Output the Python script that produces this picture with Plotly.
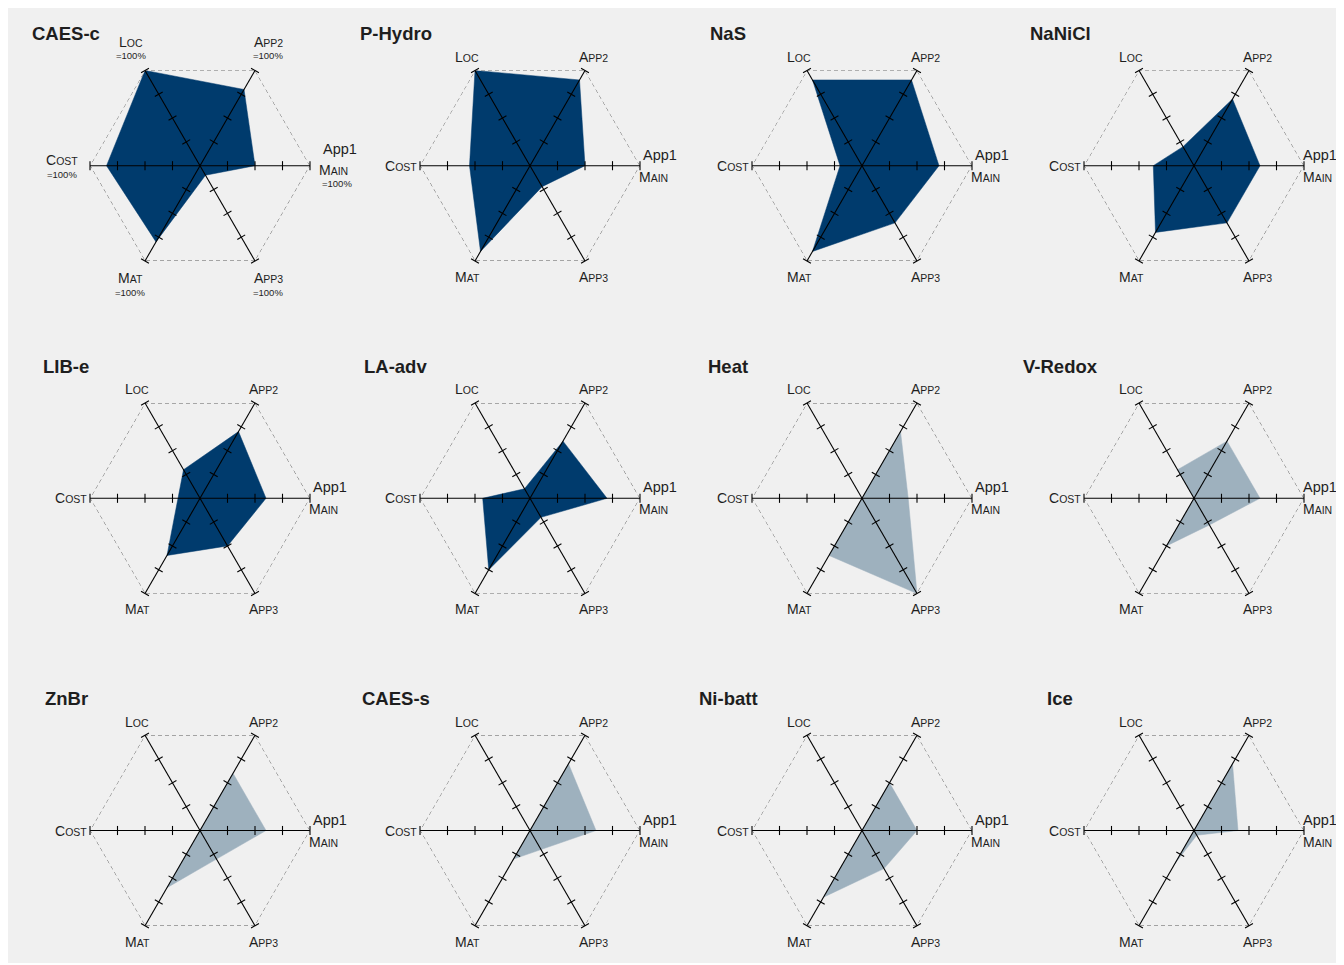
import plotly.graph_objects as go

W, H = 1344, 955
OFF = 8  # page body margin in the browser
VIS_RIGHT = 1336  # right edge of the visible figure area (page px)

# ---------------- data ----------------
TECH = ["CAES-c", "P-Hydro", "NaS", "NaNiCl",
        "LIB-e", "LA-adv", "Heat", "V-Redox",
        "ZnBr", "CAES-s", "Ni-batt", "Ice"]
AXES = ["Main", "App2", "Loc", "Cost", "Mat", "App3"]

MAIN = [0.50, 0.50, 0.70, 0.60, 0.60, 0.70, 0.42, 0.60, 0.60, 0.60, 0.50, 0.40]
APP2 = [0.80, 0.90, 0.90, 0.70, 0.70, 0.60, 0.70, 0.60, 0.60, 0.70, 0.50, 0.70]
LOC = [1.00, 1.00, 0.90, 0.20, 0.30, 0.10, 0.00, 0.30, 0.00, 0.00, 0.00, 0.00]
COST = [0.85, 0.55, 0.20, 0.37, 0.20, 0.43, 0.00, 0.00, 0.00, 0.00, 0.00, 0.00]
MAT = [0.80, 0.90, 0.90, 0.70, 0.60, 0.75, 0.60, 0.50, 0.60, 0.30, 0.70, 0.35]
APP3 = [0.10, 0.22, 0.60, 0.60, 0.50, 0.20, 1.00, 0.28, 0.30, 0.20, 0.40, 0.05]
GROUP = ["dark"] * 6 + ["light"] * 6
TICK_VALS = [0.25, 0.50, 0.75, 1.00]

# ---------------- style ----------------
COLORS = {"dark": "#003B6D", "light": "#9EB1BE"}
COL_X = [200, 530, 862, 1194]      # page pixel centres
ROW_Y = [165.7, 498.3, 830.5]
R_PX = 110
FONT = "Liberation Sans, Arial, sans-serif"
TXT = "#1e1e1e"


def sc(word, big=14, small=10.5):
    return (f"<span style='font-size:{big}px'>{word[0]}</span>"
            f"<span style='font-size:{small}px'>{word[1:].upper()}</span>")


def px(x):
    return (x - OFF) / W


def py(y):
    return 1 - (y - OFF) / H


fig = go.Figure()
annotations = []
layout_polars = {}

for i, name in enumerate(TECH):
    row, col = divmod(i, 4)
    cx, cy = COL_X[col], ROW_Y[row]
    sub = "polar" if i == 0 else f"polar{i + 1}"
    vals = [MAIN[i], APP2[i], LOC[i], COST[i], MAT[i], APP3[i]]
    color = COLORS[GROUP[i]]

    # data polygon
    fig.add_trace(go.Scatterpolar(
        r=vals + [vals[0]], theta=AXES + [AXES[0]], mode="lines",
        fill="toself", fillcolor=color, line=dict(color=color, width=0.5),
        subplot=sub, showlegend=False, hoverinfo="skip"))

    # outer dashed hexagon (scale max)
    fig.add_trace(go.Scatterpolar(
        r=[TICK_VALS[-1]] * 7, theta=AXES + [AXES[0]], mode="lines",
        line=dict(color="#666666", width=1, dash="4px,3px"),
        subplot=sub, showlegend=False, hoverinfo="skip", cliponaxis=False))

    # spokes
    r_sp, th_sp = [], []
    for k in range(3):
        r_sp += [TICK_VALS[-1], 0, TICK_VALS[-1], None]
        th_sp += [AXES[k], AXES[k], AXES[k + 3], None]
    fig.add_trace(go.Scatterpolar(
        r=r_sp, theta=th_sp, mode="lines", line=dict(color="black", width=1.1),
        subplot=sub, showlegend=False, hoverinfo="skip", cliponaxis=False))

    # tick marks on spokes
    tr, tt, ta = [], [], []
    for k, a in enumerate(AXES):
        for v in TICK_VALS:
            tr.append(v)
            tt.append(a)
            ta.append(-60 * k)
    fig.add_trace(go.Scatterpolar(
        r=tr, theta=tt, mode="markers",
        marker=dict(symbol="line-ns", size=6.5, angle=ta, color="black",
                    line=dict(color="black", width=1.1)),
        subplot=sub, showlegend=False, hoverinfo="skip", cliponaxis=False))

    layout_polars[sub] = dict(
        domain=dict(x=[px(cx - R_PX), px(cx + R_PX)],
                    y=[py(cy + R_PX), py(cy - R_PX)]),
        bgcolor="rgba(0,0,0,0)",
        gridshape="linear",
        radialaxis=dict(range=[0, 1], visible=False, showgrid=False),
        angularaxis=dict(type="category", categoryarray=AXES, rotation=0,
                         direction="counterclockwise", showgrid=False,
                         showline=False, showticklabels=False, ticks=""),
    )

    def ann(text, dx, dy, xanchor="center", size=12):
        annotations.append(dict(
            text=text, x=px(cx + dx), y=py(cy + dy),
            xref="paper", yref="paper", xanchor=xanchor, yanchor="middle",
            showarrow=False, font=dict(family=FONT, size=size, color=TXT)))

    # title
    ann(f"<b>{name}</b>", -134, -132, size=18.5)

    if i == 0:
        ann(sc("Loc"), -69, -124)
        ann("=100%", -69, -110, size=9.5)
        ann(sc("App2"), 68, -124)
        ann("=100%", 68, -110, size=9.5)
        ann(sc("Cost"), -138, -6)
        ann("=100%", -138, 9, size=9.5)
        ann(sc("Mat"), -70, 112)
        ann("=100%", -70, 127, size=9.5)
        ann(sc("App3"), 68, 112)
        ann("=100%", 68, 127, size=9.5)
        ann("App1", 121, -17, xanchor="left", size=14.5)
        ann(sc("Main"), 117, 4, xanchor="left")
        ann("=100%", 137, 18, size=9.5)
    else:
        ann(sc("Loc"), -63, -109)
        ann(sc("App2"), 63, -109)
        ann(sc("Cost"), -111, 0, xanchor="right")
        ann(sc("Mat"), -63, 111)
        ann(sc("App3"), 63, 111)
        app1_dx = min(111, VIS_RIGHT - 35 - cx)
        ann("App1", app1_dx, -11, xanchor="left", size=14.5)
        ann(sc("Main"), 107, 11, xanchor="left")

fig.update_layout(
    width=W, height=H,
    margin=dict(l=0, r=0, t=0, b=0),
    paper_bgcolor="#F0F0F0",
    plot_bgcolor="#F0F0F0",
    showlegend=False,
    annotations=annotations,
    **layout_polars,
)

fig.write_html("out.html")
